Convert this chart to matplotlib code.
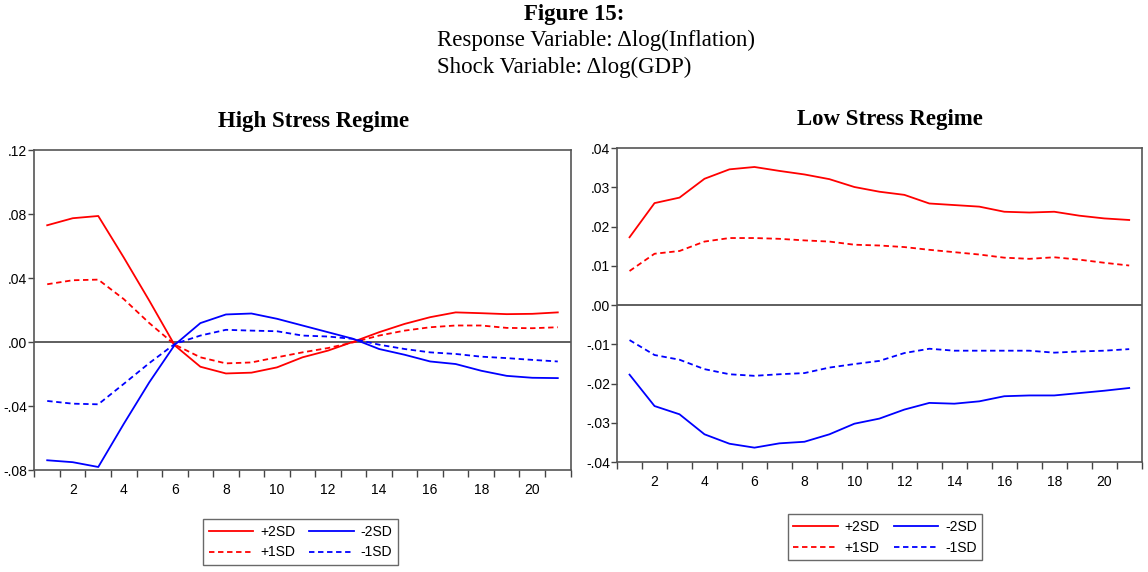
import numpy as np
import matplotlib.pyplot as plt
from matplotlib.ticker import FuncFormatter

# impulse response horizons
periods = np.arange(1, 22)

# High stress regime responses
high_p2 = [0.0732, 0.0776, 0.0790, 0.0530, 0.0260, -0.0020, -0.0153, -0.0195, -0.0190, -0.0157,
           -0.0094, -0.0052, 0.0004, 0.0063, 0.0115, 0.0157, 0.0187, 0.0182, 0.0176, 0.0178, 0.0187]
high_p1 = [0.0363, 0.0388, 0.0392, 0.0270, 0.0120, -0.0015, -0.0094, -0.0132, -0.0126, -0.0094,
           -0.0063, -0.0036, 0.0000, 0.0042, 0.0073, 0.0094, 0.0105, 0.0105, 0.0090, 0.0088, 0.0094]
high_m2 = [-0.0738, -0.0750, -0.0780, -0.0510, -0.0250, -0.0015, 0.0120, 0.0174, 0.0180, 0.0147,
           0.0105, 0.0063, 0.0021, -0.0042, -0.0078, -0.0120, -0.0136, -0.0178, -0.0210, -0.0222, -0.0224]
high_m1 = [-0.0367, -0.0384, -0.0388, -0.0260, -0.0130, -0.0010, 0.0042, 0.0078, 0.0073, 0.0069,
           0.0042, 0.0036, 0.0021, -0.0015, -0.0042, -0.0063, -0.0073, -0.0090, -0.0099, -0.0110, -0.0120]

# Low stress regime responses
low_p2 = [0.0173, 0.0260, 0.0274, 0.0322, 0.0346, 0.0352, 0.0342, 0.0333, 0.0321, 0.0301,
          0.0289, 0.0281, 0.0259, 0.0255, 0.0251, 0.0238, 0.0236, 0.0238, 0.0228, 0.0221, 0.0217]
low_p1 = [0.0087, 0.0131, 0.0138, 0.0162, 0.0171, 0.0171, 0.0169, 0.0165, 0.0162, 0.0154,
          0.0152, 0.0148, 0.0141, 0.0135, 0.0129, 0.0121, 0.0118, 0.0122, 0.0116, 0.0108, 0.0101]
low_m2 = [-0.0177, -0.0257, -0.0278, -0.0329, -0.0353, -0.0363, -0.0352, -0.0348, -0.0329, -0.0302,
          -0.0289, -0.0266, -0.0249, -0.0251, -0.0245, -0.0232, -0.0230, -0.0230, -0.0224, -0.0218, -0.0211]
low_m1 = [-0.0089, -0.0127, -0.0139, -0.0163, -0.0176, -0.0180, -0.0176, -0.0173, -0.0159, -0.0150,
          -0.0142, -0.0122, -0.0111, -0.0116, -0.0116, -0.0116, -0.0116, -0.0121, -0.0118, -0.0116, -0.0112]

labels = ["+2SD", "+1SD", "-2SD", "-1SD"]
styles = [("red", "-"), ("red", (0, (3, 2))), ("blue", "-"), ("blue", (0, (3, 2)))]

serif = ["Liberation Serif", "DejaVu Serif"]
sans = ["Liberation Sans", "DejaVu Sans"]


def fmt(v, pos):
    s = "%.2f" % v
    return s.replace("0.", ".", 1)


fig = plt.figure(figsize=(11.48, 5.72), dpi=100)

fig.text(0.5, 0.993, "Figure 15:", ha="center", va="top", family=serif,
         fontsize=16.5, fontweight="bold")
fig.text(0.381, 0.948, "Response Variable: \u0394log(Inflation)", ha="left", va="top",
         family=serif, fontsize=16.5)
fig.text(0.381, 0.900, "Shock Variable: \u0394log(GDP)", ha="left", va="top",
         family=serif, fontsize=16.5)

panels = [
    ([0.030, 0.178, 0.467, 0.559], "High Stress Regime", (-0.08, 0.12), 0.04,
     [high_p2, high_p1, high_m2, high_m1], (0.262, 0.0)),
    ([0.5375, 0.192, 0.457, 0.549], "Low Stress Regime", (-0.04, 0.04), 0.01,
     [low_p2, low_p1, low_m2, low_m1], (0.771, 0.008)),
]

for rect, title, ylim, step, series, leg_pos in panels:
    ax = fig.add_axes(rect)
    ax.axhline(0, color="#333333", linewidth=1.1, zorder=1)
    handles = []
    for vals, lab, (col, ls) in zip(series, labels, styles):
        h, = ax.plot(periods, vals, color=col, linestyle=ls, linewidth=1.3, label=lab)
        handles.append(h)

    ax.set_xlim(0.5, 21.5)
    ax.set_ylim(*ylim)
    ax.set_yticks(np.arange(ylim[0], ylim[1] + step / 2, step))
    ax.yaxis.set_major_formatter(FuncFormatter(fmt))
    ax.set_xticks(np.arange(0.5, 22, 1))
    ax.set_xticklabels([])
    ax.set_xticks(np.arange(2, 21, 2), minor=True)
    ax.set_xticklabels([str(i) for i in range(2, 21, 2)], minor=True)
    ax.tick_params(axis="x", which="major", direction="out", length=5, width=1, color="#444444")
    ax.tick_params(axis="x", which="minor", length=0, pad=9)
    ax.tick_params(axis="y", direction="out", length=4, width=1, color="#444444", pad=1)
    for lab in ax.get_xticklabels(minor=True) + ax.get_yticklabels():
        lab.set_family(sans)
        lab.set_fontsize(10)
    for sp in ax.spines.values():
        sp.set_color("#555555")
        sp.set_linewidth(1.2)

    ax.set_title(title, family=serif, fontsize=16.5, fontweight="bold", pad=17, x=0.52)

    fig.legend(handles=handles, labels=labels, ncol=2, loc="lower center",
               bbox_to_anchor=leg_pos, frameon=True, fancybox=False,
               edgecolor="#444444", prop={"family": sans, "size": 10},
               handlelength=3.2, columnspacing=1.0, handletextpad=0.5,
               borderpad=0.4, labelspacing=0.5)

fig.savefig("out.png", dpi=100)
